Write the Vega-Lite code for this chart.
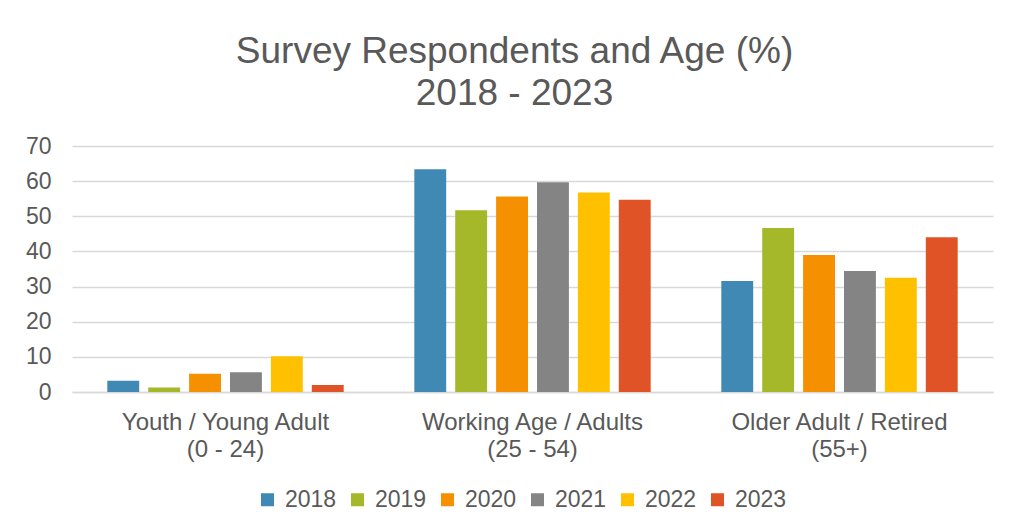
{
  "$schema": "https://vega.github.io/schema/vega-lite/v6.json",
  "width": 921,
  "height": 246,
  "autosize": "none",
  "padding": {"left": 72, "top": 146, "right": 18, "bottom": 139},
  "background": "white",
  "config": {
    "font": "Liberation Sans",
    "view": {"stroke": null}
  },
  "title": {
    "text": ["Survey Respondents and Age (%)", "2018 - 2023"],
    "fontSize": 37,
    "fontWeight": "normal",
    "color": "#595959",
    "lineHeight": 42,
    "anchor": "middle",
    "dx": -18,
    "offset": 22
  },
  "data": {
    "values": [
      {"group": "Youth / Young Adult|(0 - 24)", "year": "2018", "value": 3.2},
      {"group": "Youth / Young Adult|(0 - 24)", "year": "2019", "value": 1.25},
      {"group": "Youth / Young Adult|(0 - 24)", "year": "2020", "value": 5.2},
      {"group": "Youth / Young Adult|(0 - 24)", "year": "2021", "value": 5.6},
      {"group": "Youth / Young Adult|(0 - 24)", "year": "2022", "value": 10.2},
      {"group": "Youth / Young Adult|(0 - 24)", "year": "2023", "value": 2.0},
      {"group": "Working Age / Adults|(25 - 54)", "year": "2018", "value": 63.4},
      {"group": "Working Age / Adults|(25 - 54)", "year": "2019", "value": 51.7},
      {"group": "Working Age / Adults|(25 - 54)", "year": "2020", "value": 55.6},
      {"group": "Working Age / Adults|(25 - 54)", "year": "2021", "value": 59.7},
      {"group": "Working Age / Adults|(25 - 54)", "year": "2022", "value": 56.8},
      {"group": "Working Age / Adults|(25 - 54)", "year": "2023", "value": 54.7},
      {"group": "Older Adult / Retired|(55+)", "year": "2018", "value": 31.6},
      {"group": "Older Adult / Retired|(55+)", "year": "2019", "value": 46.7},
      {"group": "Older Adult / Retired|(55+)", "year": "2020", "value": 39.0},
      {"group": "Older Adult / Retired|(55+)", "year": "2021", "value": 34.4},
      {"group": "Older Adult / Retired|(55+)", "year": "2022", "value": 32.5},
      {"group": "Older Adult / Retired|(55+)", "year": "2023", "value": 44.0}
    ]
  },
  "mark": {"type": "bar"},
  "encoding": {
    "x": {
      "field": "group",
      "type": "nominal",
      "sort": null,
      "title": null,
      "scale": {"paddingInner": 0.23, "paddingOuter": 0.115},
      "axis": {
        "labelExpr": "split(datum.label, '|')",
        "labelAngle": 0,
        "labelFontSize": 24,
        "labelLimit": 0,
        "labelColor": "#595959",
        "labelLineHeight": 27,
        "labelPadding": 18,
        "ticks": false,
        "domainColor": "#d9d9d9",
        "domainWidth": 1.5,
        "grid": false
      }
    },
    "xOffset": {
      "field": "year",
      "type": "nominal",
      "scale": {"paddingInner": 0.22, "paddingOuter": 0}
    },
    "y": {
      "field": "value",
      "type": "quantitative",
      "title": null,
      "scale": {"domain": [0, 70]},
      "axis": {
        "values": [0, 10, 20, 30, 40, 50, 60, 70],
        "labelFontSize": 23,
        "labelColor": "#595959",
        "labelPadding": 21,
        "ticks": false,
        "domain": false,
        "gridColor": "#d9d9d9",
        "gridWidth": 1.5
      }
    },
    "color": {
      "field": "year",
      "type": "nominal",
      "title": null,
      "scale": {
        "domain": ["2018", "2019", "2020", "2021", "2022", "2023"],
        "range": ["#4189b5", "#a5b82a", "#f59100", "#848484", "#ffc000", "#e05327"]
      },
      "legend": {
        "orient": "none",
        "legendX": 184,
        "legendY": 342,
        "direction": "horizontal",
        "symbolType": "square",
        "symbolSize": 169,
        "symbolStrokeWidth": 0,
        "labelFontSize": 23,
        "labelColor": "#595959",
        "labelOffset": 6,
        "columnPadding": 9
      }
    }
  }
}
